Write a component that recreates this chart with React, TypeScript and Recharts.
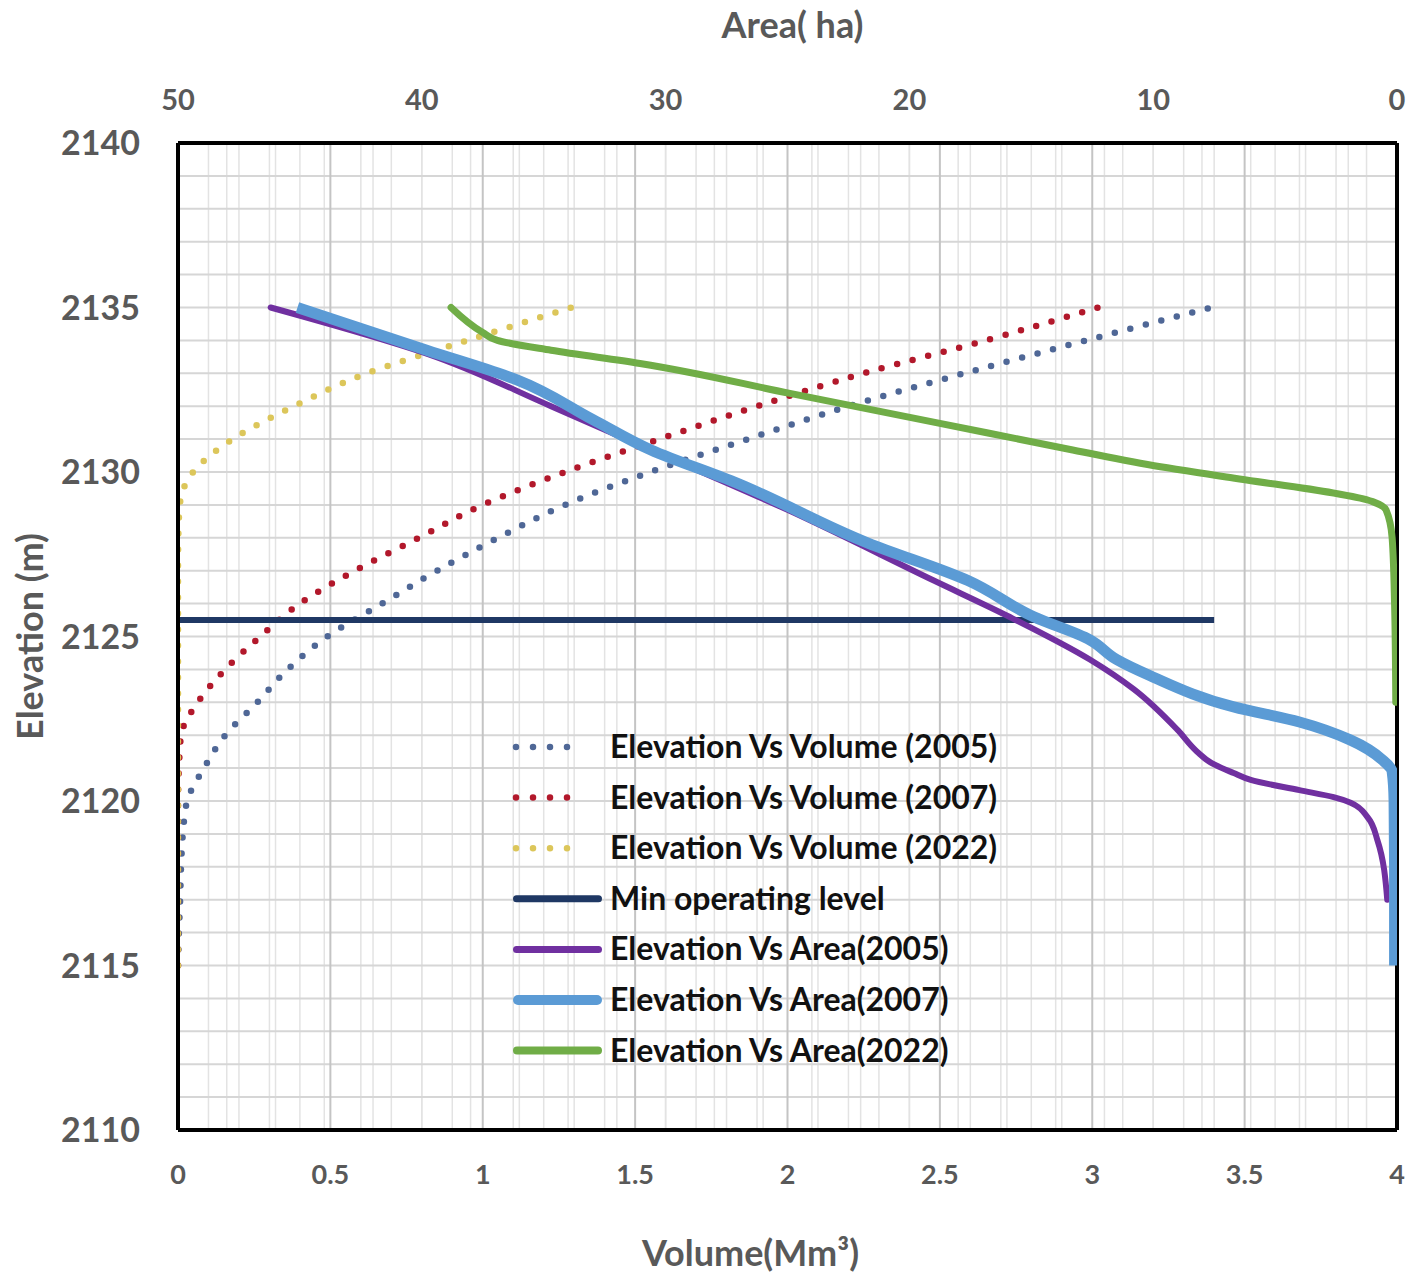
import React from 'react';
import { ComposedChart, Line, XAxis, YAxis, CartesianGrid, ReferenceLine, Legend } from 'recharts';

// ---------- data ----------
const elevVol = [2115, 2116, 2117, 2118, 2119, 2120, 2121, 2122, 2123, 2124, 2125, 2126, 2127, 2128, 2129, 2130, 2131, 2132, 2133, 2134, 2135];
const vol2005 = [0, 0.003, 0.007, 0.01, 0.016, 0.03, 0.085, 0.155, 0.26, 0.36, 0.49, 0.67, 0.85, 1.05, 1.27, 1.55, 1.87, 2.2, 2.58, 2.98, 3.39];
const vol2007 = [0, 0, 0, 0, 0, 0, 0.003, 0.01, 0.065, 0.155, 0.27, 0.4, 0.58, 0.79, 1.0, 1.27, 1.58, 1.9, 2.25, 2.65, 3.02];
const vol2022 = [0, 0, 0, 0, 0, 0, 0, 0, 0, 0, 0, 0, 0, 0.001, 0.006, 0.05, 0.18, 0.38, 0.62, 0.95, 1.29];

const minOpElev = [2125.5, 2125.5];
const minOpVol = [0, 3.4];

const elevArea2005 = [2117.0, 2118.8, 2119.5, 2119.95, 2120.12, 2120.33, 2120.64, 2120.85, 2121.15, 2121.5, 2122.16, 2123.4, 2124.3, 2125.6, 2126.7, 2128.85, 2130.67, 2132.0, 2133.6, 2135.0];
const area2005 = [0.4, 0.8, 1.2, 1.9, 2.6, 4.0, 6.0, 6.7, 7.6, 8.2, 9.0, 10.8, 12.6, 15.9, 19.0, 25.0, 30.6, 34.7, 39.8, 46.2];

const elevArea2007 = [2115.0, 2118.0, 2120.0, 2120.9, 2121.25, 2121.85, 2122.4, 2122.86, 2123.8, 2124.3, 2124.9, 2125.6, 2126.7, 2127.84, 2129.7, 2130.67, 2131.6, 2132.8, 2133.7, 2135.0];
const area2007 = [0.1, 0.1, 0.12, 0.2, 0.6, 1.9, 4.0, 6.7, 10.1, 11.5, 12.6, 14.9, 17.6, 21.7, 27.2, 30.6, 33.0, 36.1, 39.8, 45.1];

const elevArea2022 = [2123.0, 2126.0, 2128.0, 2128.85, 2129.1, 2129.85, 2130.16, 2130.67, 2131.48, 2132.39, 2133.3, 2133.7, 2134.0, 2134.24, 2135.0];
const area2022 = [0.05, 0.1, 0.2, 0.45, 1.0, 7.0, 9.7, 13.3, 18.75, 24.9, 31.05, 34.7, 36.9, 37.5, 38.8];

// ---------- ticks & grid values ----------
const volTicks = [0, 0.5, 1, 1.5, 2, 2.5, 3, 3.5, 4];
const areaTicks = [0, 10, 20, 30, 40, 50];
const elevTicks = [2110, 2115, 2120, 2125, 2130, 2135, 2140];
const volMajorGrid = [0.5, 1, 1.5, 2, 2.5, 3, 3.5];
const volMinorGrid = [0.1, 0.2, 0.3, 0.4, 0.6, 0.7, 0.8, 0.9, 1.1, 1.2, 1.3, 1.4, 1.6, 1.7, 1.8, 1.9, 2.1, 2.2, 2.3, 2.4, 2.6, 2.7, 2.8, 2.9, 3.1, 3.2, 3.3, 3.4, 3.6, 3.7, 3.8, 3.9];
const areaMinorGrid = [2, 4, 6, 8, 10, 12, 14, 16, 18, 20, 22, 24, 26, 28, 30, 32, 34, 36, 38, 40, 42, 44, 46, 48];
const elevGrid = [2111, 2112, 2113, 2114, 2115, 2116, 2117, 2118, 2119, 2120, 2121, 2122, 2123, 2124, 2125, 2126, 2127, 2128, 2129, 2130, 2131, 2132, 2133, 2134, 2135, 2136, 2137, 2138, 2139];

const seriesNames = [
  'Elevation Vs Volume (2005)',
  'Elevation Vs Volume (2007)',
  'Elevation Vs Volume (2022)',
  'Min operating level',
  'Elevation Vs Area(2005)',
  'Elevation Vs Area(2007)',
  'Elevation Vs Area(2022)',
];

const volPts = (es: number[], vs: number[]) => es.map((e, i) => ({ e, v: vs[i] }));
const areaPts = (es: number[], as: number[]) => es.map((e, i) => ({ e, a: as[i] }));

const dataVol2005 = volPts(elevVol, vol2005);
const dataVol2007 = volPts(elevVol, vol2007);
const dataVol2022 = volPts(elevVol, vol2022);
const dataMinOp = volPts(minOpElev, minOpVol);
const dataArea2005 = areaPts(elevArea2005, area2005);
const dataArea2007 = areaPts(elevArea2007, area2007);
const dataArea2022 = areaPts(elevArea2022, area2022);

// ---------- styles ----------
type S = { stroke: string; width: number; dotted: boolean; legendWidth: number };
const styles: S[] = [
  { stroke: '#4F6796', width: 6.5, dotted: true, legendWidth: 6.5 },
  { stroke: '#B2182B', width: 6.5, dotted: true, legendWidth: 6.5 },
  { stroke: '#DCC65A', width: 6.5, dotted: true, legendWidth: 6.5 },
  { stroke: '#1F3864', width: 6, dotted: false, legendWidth: 7 },
  { stroke: '#7030A0', width: 6, dotted: false, legendWidth: 7 },
  { stroke: '#5B9BD5', width: 11, dotted: false, legendWidth: 10 },
  { stroke: '#70AD47', width: 7, dotted: false, legendWidth: 8 },
];

const FONT = 'Lato';
const GRAY = '#595959';

const LegendContent = () => (
  <svg width={530} height={360} style={{ display: 'block', overflow: 'visible' }}>
    {seriesNames.map((name, i) => {
      const s = styles[i];
      const cy = 25 + i * 50.6;
      return (
        <g key={name}>
          {s.dotted ? (
            <line x1={11} x2={79} y1={cy} y2={cy} stroke={s.stroke} strokeWidth={s.legendWidth} strokeDasharray="0 17" strokeLinecap="round" />
          ) : (
            <line x1={8 + s.legendWidth / 2} x2={97 - s.legendWidth / 2} y1={cy} y2={cy} stroke={s.stroke} strokeWidth={s.legendWidth} strokeLinecap="round" />
          )}
          <text x={105} y={cy + 11} fontFamily={FONT} fontWeight={700} fontSize={32} fill="#111">{name}</text>
        </g>
      );
    })}
  </svg>
);

const titleStyle = { fontFamily: FONT, fontWeight: 700, fontSize: 36, fill: GRAY } as const;

const AreaTitle = (props: any) => {
  const vb = props.viewBox;
  return <text x={vb.x + vb.width / 2 + 5} y={vb.y + 38} textAnchor="middle" {...titleStyle}>Area( ha)</text>;
};
const VolumeTitle = (props: any) => {
  const vb = props.viewBox;
  return <text x={vb.x + vb.width / 2 - 37} y={vb.y + 136} textAnchor="middle" {...titleStyle}>Volume(Mm³)</text>;
};
const ElevTitle = (props: any) => {
  const vb = props.viewBox;
  const x = vb.x + 43;
  const y = vb.y + vb.height / 2;
  return <text x={x} y={y} textAnchor="middle" transform={`rotate(-90, ${x}, ${y})`} {...titleStyle}>Elevation (m)</text>;
};

const lineCommon = { dot: false, activeDot: false, isAnimationActive: false, dataKey: 'e', yAxisId: 'elev' } as const;

export default function App() {
  return (
    <div style={{ position: 'absolute', left: 0, top: 0, width: 1417, height: 1285, background: '#fff' }}>
      <ComposedChart width={1417} height={1285} margin={{ top: 0, right: 20, bottom: 0, left: 0 }} style={{ fontFamily: FONT }}>
        <CartesianGrid xAxisId="vol" yAxisId="elev" horizontal={false} verticalValues={volMinorGrid} stroke="#E3E3E3" strokeWidth={1.5} />
        <CartesianGrid xAxisId="area" yAxisId="elev" horizontal={false} verticalValues={areaMinorGrid} stroke="#E3E3E3" strokeWidth={1.5} />
        <CartesianGrid xAxisId="vol" yAxisId="elev" vertical={false} horizontalValues={elevGrid} stroke="#D6D6D6" strokeWidth={2} />
        <CartesianGrid xAxisId="vol" yAxisId="elev" horizontal={false} verticalValues={volMajorGrid} stroke="#C4C4C4" strokeWidth={2} />
        <XAxis
          xAxisId="vol"
          type="number"
          dataKey="v"
          orientation="bottom"
          domain={[0, 4]}
          ticks={volTicks}
          interval={0}
          allowDataOverflow
          height={155}
          tickSize={0}
          tickMargin={35}
          axisLine={{ stroke: '#000', strokeWidth: 4 }}
          tickLine={false}
          tick={{ fill: GRAY, fontSize: 27, fontWeight: 700, fontFamily: FONT }}
          label={{ content: VolumeTitle }}
        />
        <XAxis
          xAxisId="area"
          type="number"
          dataKey="a"
          orientation="top"
          domain={[0, 50]}
          reversed
          ticks={areaTicks}
          interval={0}
          allowDataOverflow
          height={143}
          tickSize={0}
          tickMargin={33}
          axisLine={{ stroke: '#000', strokeWidth: 4 }}
          tickLine={false}
          tick={{ fill: GRAY, fontSize: 29, fontWeight: 700, fontFamily: FONT }}
          label={{ content: AreaTitle }}
        />
        <YAxis
          yAxisId="elev"
          type="number"
          dataKey="e"
          domain={[2110, 2140]}
          ticks={elevTicks}
          interval={0}
          allowDataOverflow
          width={178}
          tickSize={0}
          tickMargin={38}
          axisLine={{ stroke: '#000', strokeWidth: 4 }}
          tickLine={false}
          tick={{ fill: GRAY, fontSize: 34, fontWeight: 700, fontFamily: FONT }}
          label={{ content: ElevTitle }}
        />
        <ReferenceLine xAxisId="vol" yAxisId="elev" x={4} stroke="#000" strokeWidth={4} />

        <Line {...lineCommon} xAxisId="vol" data={dataVol2005} name={seriesNames[0]} type="monotoneY" stroke={styles[0].stroke} strokeWidth={styles[0].width} strokeDasharray="0 16" strokeLinecap="round" />
        <Line {...lineCommon} xAxisId="vol" data={dataVol2007} name={seriesNames[1]} type="monotoneY" stroke={styles[1].stroke} strokeWidth={styles[1].width} strokeDasharray="0 16" strokeLinecap="round" />
        <Line {...lineCommon} xAxisId="vol" data={dataVol2022} name={seriesNames[2]} type="monotoneY" stroke={styles[2].stroke} strokeWidth={styles[2].width} strokeDasharray="0 16" strokeLinecap="round" />
        <Line {...lineCommon} xAxisId="vol" data={dataMinOp} name={seriesNames[3]} type="linear" stroke={styles[3].stroke} strokeWidth={styles[3].width} />
        <Line {...lineCommon} xAxisId="area" data={dataArea2005} name={seriesNames[4]} type="monotoneY" stroke={styles[4].stroke} strokeWidth={styles[4].width} strokeLinecap="round" />
        <Line {...lineCommon} xAxisId="area" data={dataArea2007} name={seriesNames[5]} type="monotoneY" stroke={styles[5].stroke} strokeWidth={styles[5].width} />
        <Line {...lineCommon} xAxisId="area" data={dataArea2022} name={seriesNames[6]} type="monotoneY" stroke={styles[6].stroke} strokeWidth={styles[6].width} strokeLinecap="round" />

        <Legend
          layout="vertical"
          align="center"
          verticalAlign="middle"
          width={530}
          height={360}
          content={LegendContent}
          wrapperStyle={{ left: 505, top: 722, width: 530, height: 360 }}
        />
      </ComposedChart>
    </div>
  );
}
